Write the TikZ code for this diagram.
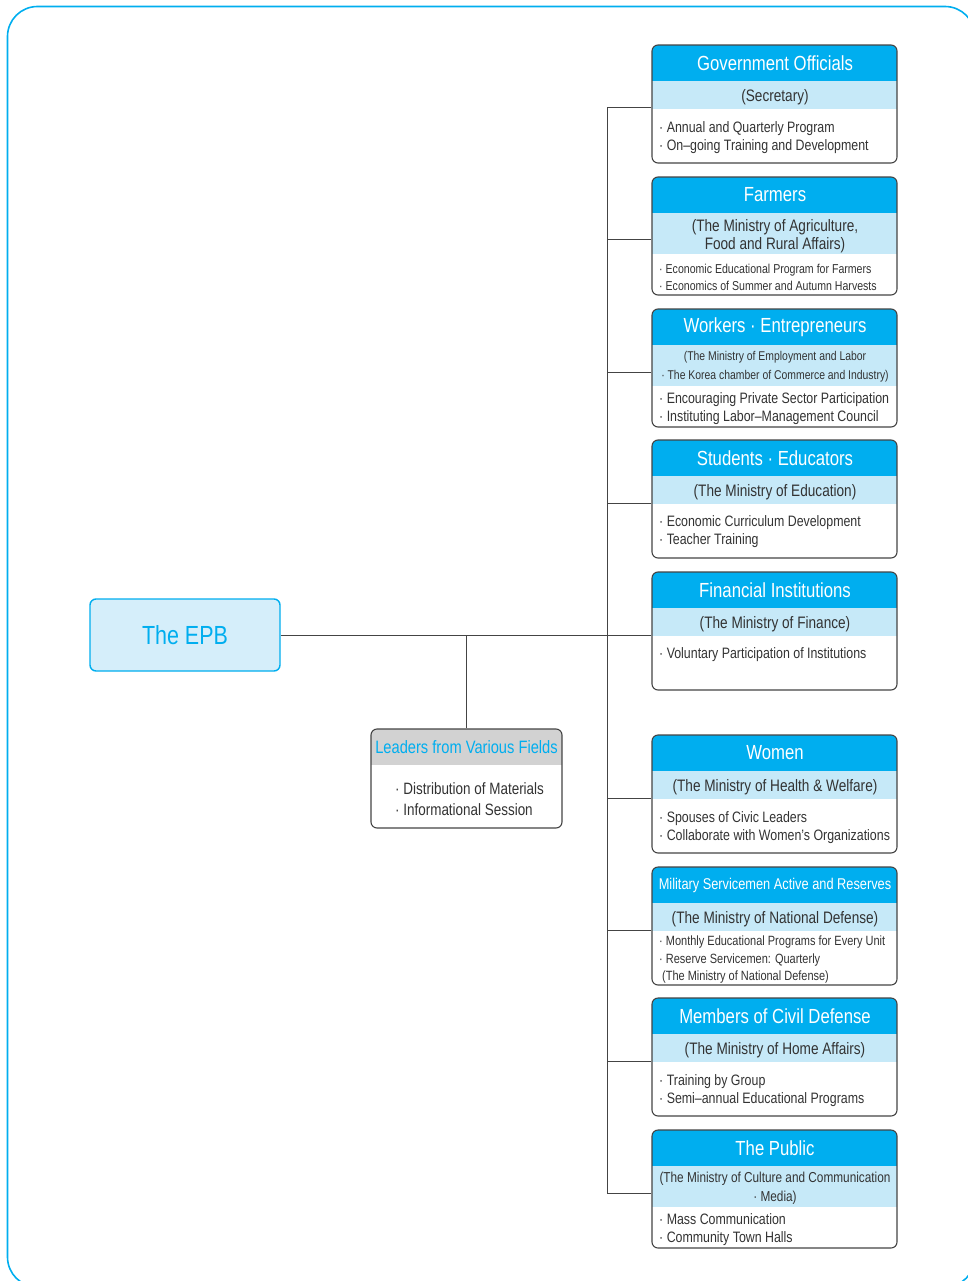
\documentclass[tikz,border=0pt]{standalone}
\usepackage{fontspec}
\setmainfont[FakeStretch=0.82]{Liberation Sans}
\usetikzlibrary{calc}
\definecolor{epbblue}{HTML}{00AEEF}
\definecolor{epbband}{HTML}{C6E9F8}
\definecolor{epbpale}{HTML}{D5EEFA}
\definecolor{epbline}{HTML}{444444}
\definecolor{epbtext}{HTML}{333333}
\definecolor{epbgray}{HTML}{D2D2D2}
\newcommand{\fsz}[2]{\fontsize{#1}{#2}\selectfont}

\begin{document}
\begin{tikzpicture}[x=1pt, y=-1pt,
	box/.style={draw=epbline, line width=1.1pt, rounded corners=6pt, fill=white, inner sep=0pt, minimum width=245pt, minimum height=118pt},
	bands/.style={path picture={
		\fill[epbblue, sharp corners] (path picture bounding box.north west) rectangle ($(path picture bounding box.north east)+(0,36)$);
		\fill[epbband, sharp corners] ($(path picture bounding box.north west)+(0,36)$) rectangle ($(path picture bounding box.north east)+(0,36+#1)$);}},
	hd/.style={text=white, inner sep=0pt, font=\fsz{20.4}{24}},
	mn/.style={text=epbtext, inner sep=0pt, yshift=-2pt, align=center, font=\fsz{16.6}{18.5}},
	bl/.style={text=epbtext, inner sep=0pt, yshift=-2pt, align=left, anchor=west, font=\fsz{15.1}{18}},
	link/.style={draw=epbline, line width=1pt}]
	\useasboundingbox (0,0) rectangle (967,1281);
	\draw[epbblue, line width=1.6pt, rounded corners=30pt] (7.5,1287) -- (7.5,6.5) -- (975,6.5) -- (975,1287) -- cycle;

	% the EPB and the leaders
	\node[draw=epbblue, line width=1.4pt, fill=epbpale, rounded corners=6pt, minimum width=190pt, minimum height=72pt, text=epbblue, font=\fsz{26.2}{30}] (epb) at (185,635) {The EPB};
	\node[box, minimum width=191pt, minimum height=99pt, path picture={\fill[epbgray, sharp corners] (path picture bounding box.north west) rectangle ($(path picture bounding box.north east)+(0,36)$);}] (box-lead) at (466.5,778.5) {};
	\node[text=epbblue, inner sep=0pt, font=\fsz{17.9}{20}] (lead-h) at (466.5,747) {Leaders from Various Fields};
	\node[bl, font=\fsz{16.4}{21}] (lead-b) at (395,797.5) {· Distribution of Materials\\· Informational Session};

	% groups on the right
	\node[box, bands=28] (box-gov) at (774.5,104) {};
	\node[hd] (gov-h) at (775,63) {Government Officials};
	\node[mn] (gov-m) at (775,95) {(Secretary)};
	\node[bl] (gov-b) at (659,136) {· Annual and Quarterly Program\\· On–going Training and Development};

	\node[box, bands=41] (box-farm) at (774.5,236) {};
	\node[hd] (farm-h) at (775,195) {Farmers};
	\node[mn] (farm-m) at (775,234) {(The Ministry of Agriculture,\\Food and Rural Affairs)};
	\node[bl, font=\fsz{12.9}{17}] (farm-b) at (659,275.5) {· Economic Educational Program for Farmers\\· Economics of Summer and Autumn Harvests};

	\node[box, bands=41] (box-work) at (774.5,368) {};
	\node[hd] (work-h) at (775,327) {Workers · Entrepreneurs};
	\node[mn, font=\fsz{12.7}{19}] (work-m) at (775,364.5) {(The Ministry of Employment and Labor\\· The Korea chamber of Commerce and Industry)};
	\node[bl] (work-b) at (659,407) {· Encouraging Private Sector Participation\\· Instituting Labor–Management Council};

	\node[box, bands=28] (box-stud) at (774.5,499) {};
	\node[hd] (stud-h) at (775,458) {Students · Educators};
	\node[mn] (stud-m) at (775,490) {(The Ministry of Education)};
	\node[bl] (stud-b) at (659,530) {· Economic Curriculum Development\\· Teacher Training};

	\node[box, bands=28] (box-fin) at (774.5,631) {};
	\node[hd] (fin-h) at (775,590) {Financial Institutions};
	\node[mn] (fin-m) at (775,622) {(The Ministry of Finance)};
	\node[bl] (fin-b) at (659,653) {· Voluntary Participation of Institutions};

	\node[box, bands=28] (box-wom) at (774.5,794) {};
	\node[hd] (wom-h) at (775,753) {Women};
	\node[mn] (wom-m) at (775,785) {(The Ministry of Health \& Welfare)};
	\node[bl] (wom-b) at (659,825.5) {· Spouses of Civic Leaders\\· Collaborate with Women’s Organizations};

	\node[box, bands=28] (box-mil) at (774.5,926) {};
	\node[hd, font=\fsz{15.6}{18}] (mil-h) at (775,885) {Military Servicemen Active and Reserves};
	\node[mn] (mil-m) at (775,917) {(The Ministry of National Defense)};
	\node[bl, font=\fsz{13.4}{17.5}] (mil-b) at (659,958) {· Monthly Educational Programs for Every Unit\\· Reserve Servicemen: Quarterly\\\hspace{3pt}(The Ministry of National Defense)};

	\node[box, bands=28] (box-civ) at (774.5,1057) {};
	\node[hd] (civ-h) at (775,1016) {Members of Civil Defense};
	\node[mn] (civ-m) at (775,1048) {(The Ministry of Home Affairs)};
	\node[bl] (civ-b) at (659,1088.5) {· Training by Group\\· Semi–annual Educational Programs};

	\node[box, bands=41] (box-pub) at (774.5,1189) {};
	\node[hd] (pub-h) at (775,1148) {The Public};
	\node[mn, font=\fsz{14.4}{19}] (pub-m) at (775,1186.5) {(The Ministry of Culture and Communication\\· Media)};
	\node[bl] (pub-b) at (659,1228) {· Mass Communication\\· Community Town Halls};

	% connectors
	\coordinate (spine) at (607,0);
	\foreach \g in {gov,farm,work,stud,fin,wom,mil,civ,pub}
		\draw[link] ([yshift=-4pt]box-\g.west) -- ([yshift=-4pt]box-\g.west -| spine);
	\draw[link] ([yshift=-4pt]box-gov.west -| spine) -- ([yshift=-4pt]box-pub.west -| spine);
	\draw[link] (epb.east) -- ([yshift=-4pt]box-fin.west -| spine);
	\draw[link] (box-lead.north) -- (box-lead.north |- epb.east);
\end{tikzpicture}
\end{document}
